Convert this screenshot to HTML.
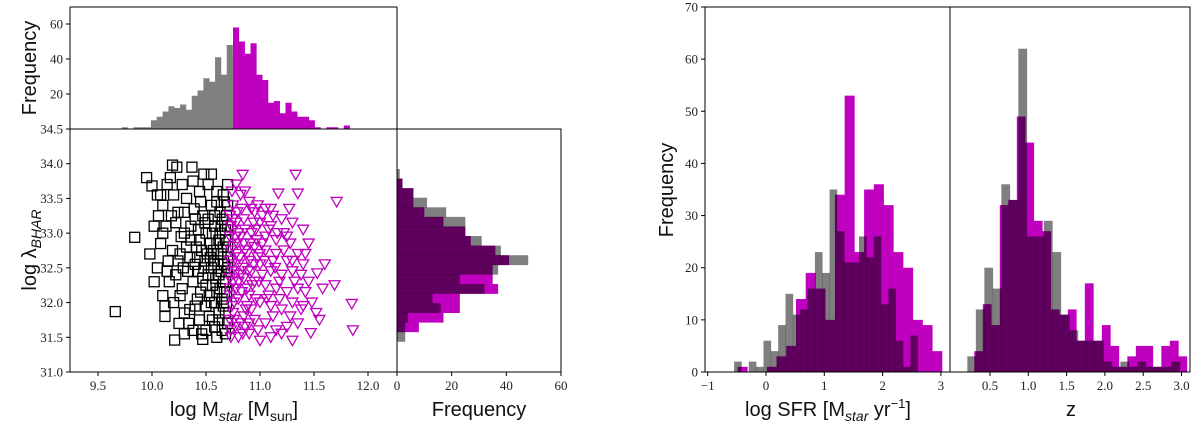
<!DOCTYPE html>
<html><head><meta charset="utf-8"><style>
body{margin:0;background:#fff;}
svg{display:block;}
.tk{font-family:"Liberation Serif",serif;font-size:13px;fill:#222;}
.lb{font-family:"Liberation Sans",sans-serif;font-size:20px;fill:#111;}
</style></head><body>
<svg id="fig" width="1200" height="424" viewBox="0 0 1200 424" xmlns="http://www.w3.org/2000/svg">
<g id="marks"></g>
<g id="axes"></g>
<text class="lb" transform="translate(36,68) rotate(-90)" text-anchor="middle">Frequency</text>
<text class="lb" transform="translate(36,250) rotate(-90)" text-anchor="middle">log λ<tspan font-style="italic" font-size="14" dy="5">BHAR</tspan></text>
<text class="lb" x="234" y="416" text-anchor="middle">log M<tspan font-style="italic" font-size="14" dy="5">star</tspan><tspan dy="-5"> [M</tspan><tspan font-size="14" dy="5">sun</tspan><tspan dy="-5">]</tspan></text>
<text class="lb" x="479" y="416" text-anchor="middle">Frequency</text>
<text class="lb" transform="translate(673,190) rotate(-90)" text-anchor="middle">Frequency</text>
<text class="lb" x="828" y="416" text-anchor="middle">log SFR [M<tspan font-style="italic" font-size="14" dy="5">star</tspan><tspan dy="-5"> yr</tspan><tspan font-size="13" dy="-8">−1</tspan><tspan dy="8">]</tspan></text>
<text class="lb" x="1071" y="416" text-anchor="middle">z</text>
</svg>
<script>
// ---- data ----
const mstarGrayStart = 9.72, mstarWidth = 0.054;
const mstarGray = [1,0,1,1,1,5,7,10,13,12,14,11,19,22,29,27,41,31,48,42];
const mstarMagStart = 10.75;
const mstarMag = [58,50,43,49,31,28,15,16,9,15,10,7,7,5,1,0,1,1,0,2];
const lamStart = 31.44, lamWidth = 0.138; // bins bottom to top
const lamGray = [3,3,4,16,13,32,23,37,48,38,31,25,25,18,11,6,2,1];
const lamMag  = [0,8,17,23,23,37,35,35,41,36,27,25,17,10,6,6,2,0];
const sfrGrayStart = -0.547, sfrGrayWidth = 0.126;
const sfrGray = [2,0,2,1,6,4,9,15,11,12,16,23,19,35,27,21,21,26,22,26,13,16,6,1,7];
const sfrMagStart = -0.488, sfrMagWidth = 0.167;
const sfrMag = [1,0,0,1,3,5,14,19,16,10,34,53,23,35,36,32,23,20,10,9,4];
const zGrayStart = 0.204, zWidth = 0.111;
const zGray = [3,12,20,16,36,33,62,26,26,29,23,11,8,6,6,6,2,1,2,1,2,1,1,1,2];
const zMagStart = 0.295;
const zMag = [4,13,9,32,33,49,44,29,27,12,11,12,6,17,6,9,5,1,3,5,5,1,5,6,3];
const squares = [[9.66,31.87],[9.84,32.94],[9.95,33.8],[10.0,33.68],[10.05,33.55],[10.19,33.98],[10.23,33.95],[10.14,33.7],[10.1,33.4],[10.21,31.46],[10.47,31.47],[10.1,32.1],[10.05,32.5],[9.98,32.7],[10.02,32.3],[10.08,32.85],[10.13,33.1],[10.18,33.25],[10.15,32.6],[10.2,32.0],[10.12,31.8],[10.25,31.7],[10.3,31.55],[10.35,31.9],[10.28,32.2],[10.22,32.4],[10.26,32.7],[10.3,33.0],[10.24,33.3],[10.32,33.5],[10.38,33.75],[10.55,33.85],[10.52,33.7],[10.45,33.45],[10.4,33.2],[10.36,32.9],[10.4,32.55],[10.38,32.3],[10.42,32.05],[10.44,31.75],[10.5,31.6],[10.6,31.5],[10.62,31.85],[10.55,32.0],[10.5,32.25],[10.48,32.5],[10.46,32.75],[10.5,33.0],[10.47,33.25],[10.55,33.4],[10.6,33.6],[10.63,33.3],[10.58,33.1],[10.6,32.85],[10.57,32.6],[10.62,32.4],[10.6,32.15],[10.66,31.95],[10.68,32.3],[10.67,32.55],[10.66,32.8],[10.68,33.05],[10.65,33.2],[10.67,33.45],[10.7,33.7],[10.7,32.65],[10.69,32.0],[10.7,31.7],[10.33,32.45],[10.27,32.95],[10.19,32.75],[10.1,33.0],[10.16,32.3],[10.06,33.25],[10.34,31.7],[10.4,31.95],[10.53,31.8],[10.58,31.65],[10.45,32.15],[10.52,32.4],[10.35,32.65],[10.43,33.05],[10.52,33.2],[10.3,33.3],[10.2,33.55],[10.28,33.7],[10.44,33.6],[10.63,33.0],[10.64,32.7],[10.56,32.25],[10.61,32.55],[10.54,32.85],[10.49,33.15],[10.39,33.35],[10.26,32.1],[10.14,32.45],[10.08,33.55],[10.17,33.8],[10.37,33.95],[10.48,33.85],[10.3,31.85],[10.24,32.6],[10.41,32.8],[10.58,32.0],[10.65,31.6],[10.12,31.95],[10.02,33.1],[10.36,33.1],[10.55,32.5],[10.67,32.15],[10.69,33.25],[10.5,31.95],[10.22,33.15],[10.46,31.55],[10.38,31.6],
[10.64,32.45],[10.66,32.6],[10.62,32.9],[10.68,32.9],[10.64,33.1],[10.69,32.45],[10.66,32.3],[10.63,32.2],[10.69,32.15],[10.65,32.05],[10.62,31.75],[10.68,31.85],[10.7,33.4],[10.66,33.55],[10.6,33.45],[10.57,32.75],[10.59,32.35],[10.54,32.65],[10.56,33.0],[10.53,32.1],[10.51,32.7],[10.47,32.35],[10.44,32.9],[10.49,32.6],[10.43,32.45],[10.58,33.25],[10.61,32.7],[10.7,32.8],[10.7,32.5],[10.7,33.1],[10.68,31.55],[10.56,31.75],[10.42,32.65],[10.32,32.8],[10.29,32.5]];
const triangles = [[10.84,33.84],[10.78,33.7],[10.82,33.55],[10.9,33.45],[10.75,33.4],[10.95,33.3],[11.17,33.57],[11.35,33.57],[11.71,33.45],[11.05,33.35],[11.2,33.2],[11.1,33.1],[11.0,33.15],[10.85,33.2],[10.75,33.05],[10.92,33.0],[11.05,32.95],[11.15,32.9],[11.25,32.95],[11.3,33.15],[11.4,33.05],[11.45,32.85],[11.35,32.7],[11.25,32.6],[11.15,32.7],[11.05,32.75],[10.95,32.8],[10.85,32.85],[10.75,32.8],[10.72,32.6],[10.8,32.55],[10.9,32.6],[11.0,32.55],[11.1,32.45],[11.2,32.4],[11.3,32.45],[11.4,32.55],[11.53,32.42],[11.58,32.2],[11.69,32.25],[11.45,32.3],[11.35,32.2],[11.25,32.15],[11.15,32.2],[11.05,32.25],[10.95,32.3],[10.85,32.35],[10.75,32.3],[10.72,32.1],[10.8,32.05],[10.9,32.1],[11.0,32.0],[11.1,31.95],[11.2,31.9],[11.3,32.0],[11.4,31.95],[11.52,31.85],[11.85,31.98],[11.86,31.6],[11.47,31.56],[11.35,31.7],[11.25,31.65],[11.15,31.6],[11.05,31.7],[10.95,31.75],[10.85,31.8],[10.75,31.85],[10.73,31.6],[10.8,31.5],[10.9,31.55],[11.0,31.45],[11.1,31.5],[10.72,33.25],[10.74,33.6],[10.78,33.15],[10.82,32.95],[10.88,32.7],[10.78,32.7],[10.74,32.45],[10.82,32.4],[10.88,32.2],[10.78,32.2],[10.74,31.95],[10.82,31.7],[10.88,31.95],[10.92,32.45],[10.98,32.65],[11.02,32.85],[11.08,33.05],[11.12,32.6],[11.18,32.3],[11.22,32.75],[11.28,32.85],[11.32,32.3],[11.38,32.4],[11.42,32.7],[11.08,32.1],[11.12,31.8],[11.18,32.05],[11.28,31.8],[11.02,32.4],[10.96,32.05],[10.92,31.9],[10.98,31.6],[10.86,31.65],[10.76,31.75],[10.72,32.95],[10.8,33.0],[10.86,33.05],[10.94,33.15],[11.0,32.7],[11.22,33.0],[11.12,33.25],[11.02,33.25],[10.92,33.35],[10.86,33.6],[10.98,33.4],[11.3,32.6],[11.48,32.0],[11.55,31.75],[11.6,32.55],[11.2,31.55],[11.3,31.45],[11.38,31.9],[11.42,32.15],[11.1,33.35],[11.27,33.35],[11.33,33.84],
[10.72,32.35],[10.73,32.75],[10.72,32.2],[10.74,32.55],[10.76,32.4],[10.77,32.95],[10.73,33.1],[10.76,32.0],[10.72,31.75],[10.77,31.65],[10.79,32.85],[10.8,32.3],[10.81,32.65],[10.83,32.15],[10.84,32.5],[10.83,33.35],[10.79,33.3],[10.86,32.75],[10.87,31.9],[10.89,32.45],[10.91,32.85],[10.93,32.25],[10.94,32.55],[10.97,32.9],[10.99,32.3],[10.84,31.55],[10.9,31.7],[10.96,33.05],[11.04,32.6],[11.06,32.05],[11.14,32.5],[11.16,33.0],[10.73,31.5],[10.75,33.2]];
const mstarTicks = [9.5,10.0,10.5,11.0,11.5,12.0];
const lamTicks = [31.0,31.5,32.0,32.5,33.0,33.5,34.0,34.5];
const freqTicksTop = [20,40,60];
const freqTicksSide = [0,20,40,60];
const sfrTicks = [-1,0,1,2,3];
const sfrFreqTicks = [0,10,20,30,40,50,60,70];
const zTicks = [0.5,1.0,1.5,2.0,2.5,3.0];

// ---- scales ----
const lin=(d0,d1,r0,r1)=>v=>r0+(v-d0)*(r1-r0)/(d1-d0);
const xM = lin(9.5,12.0,98,368);
const yL = lin(31.0,34.5,372,129);
const yTop = lin(0,60,129,24);
const xSide = lin(0,60,397,561);
const xS = lin(-1,3,707.7,940.9);
const yF = lin(0,70,372,7);
const xZ = lin(0.5,3.0,990,1181.5);

const NS="http://www.w3.org/2000/svg";
const marks=document.getElementById('marks'), axes=document.getElementById('axes');
function mk(tag,attrs,parent){const e=document.createElementNS(NS,tag);for(const k in attrs)e.setAttribute(k,attrs[k]);parent.appendChild(e);return e;}

function vhist(counts,start,w,xs,ys,fill,op,name){
  counts.forEach((c,i)=>{if(!c)return;const x0=xs(start+i*w),x1=xs(start+(i+1)*w);
    const r=mk('rect',{x:x0,y:ys(c),width:x1-x0+0.3,height:ys(0)-ys(c),fill:fill,'fill-opacity':op},marks);
    
    });
}
function hhist(counts,start,w,xs,ys,fill,op,name){
  counts.forEach((c,i)=>{if(!c)return;const y0=ys(start+(i+1)*w),y1=ys(start+i*w);
    const r=mk('rect',{x:xs(0),y:y0,width:xs(c)-xs(0),height:y1-y0+0.3,fill:fill,'fill-opacity':op},marks);
    
    });
}
vhist(mstarGray,mstarGrayStart,mstarWidth,xM,yTop,'#808080',1,'mstar-bar-low');
vhist(mstarMag,mstarMagStart,mstarWidth,xM,yTop,'#bf00bf',1,'mstar-bar-high');
hhist(lamMag,lamStart,lamWidth,xSide,yL,'#bf00bf',1,'lambda-bar-high');
hhist(lamGray,lamStart,lamWidth,xSide,yL,'#000',0.5,'lambda-bar-low');
vhist(sfrMag,sfrMagStart,sfrMagWidth,xS,yF,'#bf00bf',1,'sfr-bar-high');
vhist(sfrGray,sfrGrayStart,sfrGrayWidth,xS,yF,'#000',0.5,'sfr-bar-low');
vhist(zMag,zMagStart,zWidth,xZ,yF,'#bf00bf',1,'z-bar-high');
vhist(zGray,zGrayStart,zWidth,xZ,yF,'#000',0.5,'z-bar-low');
squares.forEach(p=>{const s=mk('rect',{x:xM(p[0])-5,y:yL(p[1])-5,width:10,height:10,fill:'none',stroke:'#000','stroke-width':1.3},marks);
  
  });
triangles.forEach(p=>{const x=xM(p[0]),y=yL(p[1]);
  const t=mk('polygon',{points:`${x-5.5},${y-4.5} ${x+5.5},${y-4.5} ${x},${y+5}`,fill:'none',stroke:'#bf00bf','stroke-width':1.3},marks);
  
  });

function frame(x0,y0,x1,y1,name){const r=mk('rect',{x:x0,y:y0,width:x1-x0,height:y1-y0,fill:'none',stroke:'#000','stroke-width':1},axes);
  
  }
frame(70,7,397,129,'top-hist-frame');
frame(70,129,397,372,'scatter-frame');
frame(397,129,561,372,'side-hist-frame');
frame(705,7,950,372,'sfr-frame');
frame(950,7,1190,372,'z-frame');
function xtick(x,y,label,name){mk('line',{x1:x,y1:y,x2:x,y2:y+4,stroke:'#000'},axes);
  const t=mk('text',{x:x,y:y+18,'text-anchor':'middle',class:'tk'},axes);t.textContent=label;
  
  }
function ytick(x,y,label,name){mk('line',{x1:x,y1:y,x2:x-4,y2:y,stroke:'#000'},axes);
  const t=mk('text',{x:x-7,y:y+4.5,'text-anchor':'end',class:'tk'},axes);t.textContent=label;
  
  }
const fmt=(v,d)=>(v<0?'−':'')+Math.abs(v).toFixed(d);
mstarTicks.forEach(v=>xtick(xM(v),372,fmt(v,1),'mstar-tick-label'));
lamTicks.forEach(v=>ytick(70,yL(v),fmt(v,1),'lambda-tick-label'));
freqTicksTop.forEach(v=>ytick(70,yTop(v),String(v),'top-freq-tick-label'));
freqTicksSide.forEach(v=>xtick(xSide(v),372,String(v),'side-freq-tick-label'));
sfrTicks.forEach(v=>xtick(xS(v),372,fmt(v,0),'sfr-tick-label'));
sfrFreqTicks.forEach(v=>ytick(705,yF(v),String(v),'sfr-freq-tick-label'));
zTicks.forEach(v=>xtick(xZ(v),372,v.toFixed(1),'z-tick-label'));
</script>
</body></html>
